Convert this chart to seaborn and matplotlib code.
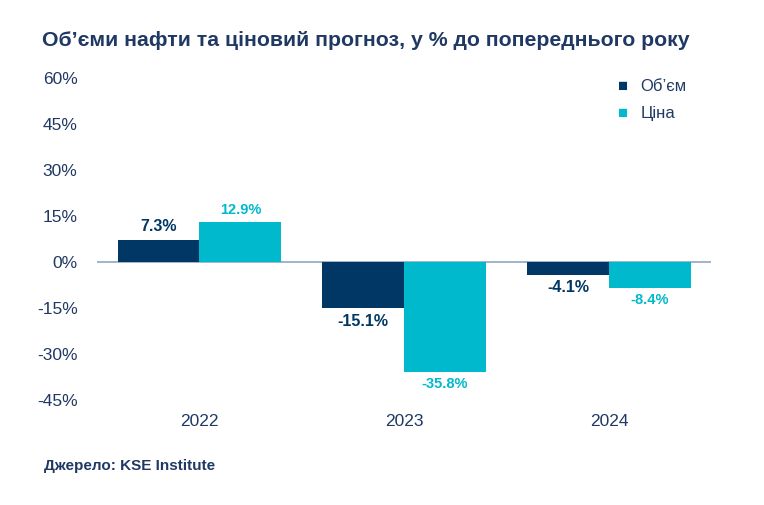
import pandas as pd
import seaborn as sns
import matplotlib.pyplot as plt

years = ['2022', '2023', '2024']
volume = [7.3, -15.1, -4.1]
price = [12.9, -35.8, -8.4]
series = ['Об’єм', 'Ціна']
yticks = [60, 45, 30, 15, 0, -15, -30, -45]

navy = '#003764'
teal = '#00B9CD'
text_col = '#1F3864'

df = pd.DataFrame({
    'year': years * 2,
    'value': volume + price,
    'series': [series[0]] * 3 + [series[1]] * 3,
})

sns.set_theme(style='white')
plt.rcParams['font.family'] = ['Liberation Sans', 'DejaVu Sans']

fig = plt.figure(figsize=(7.64, 5.05), dpi=100)
ax = fig.add_axes([0.127, 0.208, 0.804, 0.6375])

sns.barplot(data=df, x='year', y='value', hue='series', palette=[navy, teal],
            width=0.8, saturation=1, ax=ax, legend=False, linewidth=0)

ax.set_xlim(-0.5, 2.5)
ax.set_ylim(-45, 60)
ax.set_yticks(yticks)
ax.set_yticklabels([f'{t}%' for t in yticks], fontsize=12.5, color=text_col)
ax.tick_params(axis='y', length=0, pad=14)
ax.tick_params(axis='x', length=0, pad=10, labelsize=12.5, labelcolor=text_col)
ax.set_xlabel('')
ax.set_ylabel('')
for s in ax.spines.values():
    s.set_visible(False)
ax.axhline(0, color='#8FA8C0', lw=1.2, zorder=0)

# data labels
for cont, col, fs in zip(ax.containers, [navy, teal], [11.5, 10.5]):
    labels = [f'{v:.1f}%' for v in cont.datavalues]
    ax.bar_label(cont, labels=labels, padding=4, color=col, fontsize=fs, fontweight='bold')

# legend
fig.text(0.816, 0.829, '■', color=navy, fontsize=12, va='center', ha='center')
fig.text(0.838, 0.829, series[0], color=text_col, fontsize=12, va='center')
fig.text(0.816, 0.776, '■', color=teal, fontsize=12, va='center', ha='center')
fig.text(0.838, 0.776, series[1], color=text_col, fontsize=12, va='center')

fig.text(0.055, 0.92, 'Об’єми нафти та ціновий прогноз, у % до попереднього року',
         fontsize=15.3, fontweight='bold', color=text_col, va='center')
fig.text(0.057, 0.077, 'Джерело: KSE Institute', fontsize=11, fontweight='bold',
         color=text_col, va='center')

fig.savefig('out.png', dpi=100, facecolor='white')
